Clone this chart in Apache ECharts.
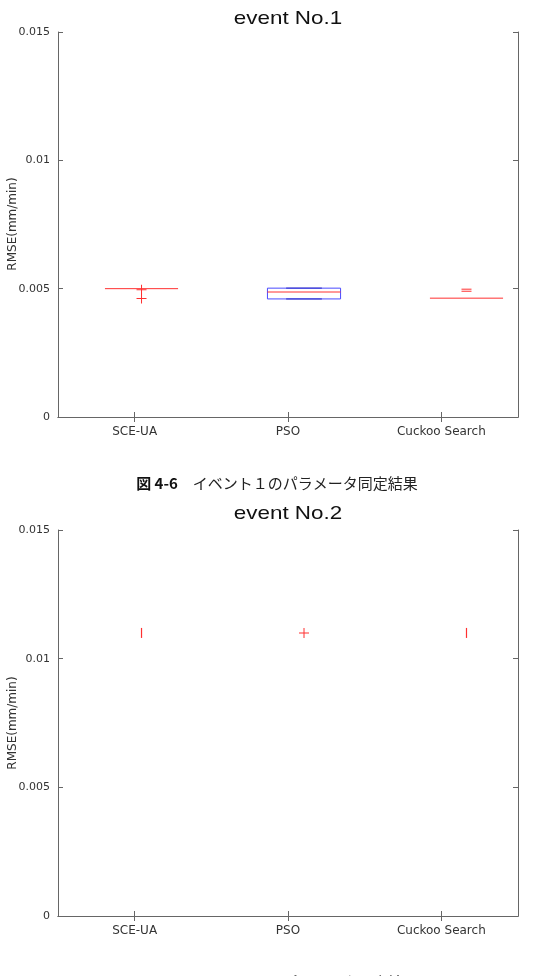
<!DOCTYPE html>
<html>
<head>
<meta charset="utf-8">
<style>
  html, body { margin: 0; padding: 0; background: #fff; }
  #chart { width: 552px; height: 976px; }
</style>
<script src="https://cdn.jsdelivr.net/npm/echarts@6/dist/echarts.min.js"></script>
</head>
<body>
<div id="chart"></div>
<script>
// categories and axis range
const categories = ['SCE-UA', 'PSO', 'Cuckoo Search'];
const yTickLabels = ['0', '0.005', '0.01', '0.015'];
const yMax = 0.015;
const yStep = 0.005;

// event 1: box statistics per method
const event1Low    = [0.00500, 0.00460, 0.00463];
const event1Q1     = [0.00500, 0.00460, 0.00463];
const event1Median = [0.00500, 0.00487, 0.00463];
const event1Q3     = [0.00500, 0.00502, 0.00463];
const event1High   = [0.00500, 0.00502, 0.00463];
const event1Outliers = [[0.00496, 0.00462], [], [0.00498, 0.00490]];

// event 2: every run ended on the same value
const event2Points = [[0.0110], [0.0110], [0.0110]];

// how each outlier mark looks in the original figure
const MARKS = {
    e1: ['plus', 'plus', 'dash'],
    e2: ['bar', 'plus', 'bar'],
};
const PLUS = 'path://M4.5,0H5.5V10H4.5ZM0,4.5H10V5.5H0Z';
const RECT = 'path://M0,0H1V1H0Z';

const AXIS_COLOR = '#666';
const LABEL_COLOR = '#333';
const BOX_HALF = 0.225;
const CAP_HALF = 0.11;

const grids = [
    { left: 58, top: 32,  width: 460, height: 385, containLabel: false, outerBoundsMode: 'none' },
    { left: 58, top: 530, width: 460, height: 386, containLabel: false, outerBoundsMode: 'none' },
];

function xAxesFor(gi) {
    const common = {
        type: 'category',
        gridIndex: gi,
        data: categories,
        boundaryGap: true,
        axisLine: { show: true, lineStyle: { color: AXIS_COLOR } },
        axisTick: { show: true, inside: true, alignWithLabel: true, length: 5, lineStyle: { color: AXIS_COLOR } },
        splitLine: { show: false },
    };
    return [
        { ...common, position: 'bottom',
          axisLabel: { color: LABEL_COLOR, fontSize: 12, margin: 9, fontFamily: 'DejaVu Sans' } },
        { ...common, position: 'top', axisLabel: { show: false } },
        // data sits on its own hidden scale (marks are offset from the ticks in the source)
        { type: 'value', gridIndex: gi, show: false, min: 0.486, max: 3.317 },
    ];
}

function yAxesFor(gi) {
    const common = {
        type: 'value',
        gridIndex: gi,
        min: 0,
        max: yMax,
        interval: yStep,
        axisLine: { show: true, lineStyle: { color: AXIS_COLOR } },
        axisTick: { show: true, inside: true, length: 5, lineStyle: { color: AXIS_COLOR } },
        splitLine: { show: false },
    };
    return [
        { ...common, position: 'left',
          axisLabel: { color: LABEL_COLOR, fontSize: 11, margin: 8, fontFamily: 'DejaVu Sans',
                       formatter: (v) => yTickLabels[Math.round(v / yStep)] } },
        { ...common, position: 'right', axisLabel: { show: false } },
    ];
}

function boxRender(params, api) {
    const x = api.value(0);
    const lo = api.value(1), q1 = api.value(2), med = api.value(3), q3 = api.value(4), hi = api.value(5);
    const c = (vx, vy) => api.coord([vx, vy]);
    const line = (a, b, color) => ({
        type: 'line',
        shape: { x1: a[0], y1: a[1], x2: b[0], y2: b[1] },
        style: { stroke: color, lineWidth: 1 },
    });
    const kids = [];
    const tl = c(x - BOX_HALF, q3), br = c(x + BOX_HALF, q1);
    if (br[1] - tl[1] > 0.5) {
        // caps
        kids.push(line(c(x - CAP_HALF, hi), c(x + CAP_HALF, hi), '#000080'));
        kids.push(line(c(x - CAP_HALF, lo), c(x + CAP_HALF, lo), '#000080'));
        // box
        kids.push({
            type: 'rect',
            shape: { x: tl[0], y: tl[1], width: br[0] - tl[0], height: br[1] - tl[1] },
            style: { fill: 'none', stroke: '#4a4aff', lineWidth: 1 },
        });
    }
    // median
    kids.push(line(c(x - BOX_HALF, med), c(x + BOX_HALF, med), '#ff3030'));
    return { type: 'group', children: kids };
}

function outlierData(list) {
    const out = [];
    list.forEach((vals, i) => vals.forEach(v => out.push([i + 1, v, i])));
    return out;
}

function markSymbol(kind) {
    return kind === 'plus' ? PLUS : RECT;
}
function markSize(kind) {
    if (kind === 'plus') return 10;
    if (kind === 'dash') return [10, 1];
    return [1.2, 10];
}

function title(text, y) {
    return { type: 'text', x: 288, y, scaleX: 1.18,
             style: { text, fontSize: 19, fontFamily: 'Liberation Sans', fill: '#111',
                      textAlign: 'center', textVerticalAlign: 'middle' } };
}

function yName(y) {
    return { type: 'text', x: 13, y, rotation: Math.PI / 2,
             style: { text: 'RMSE(mm/min)', fontSize: 12, fontFamily: 'DejaVu Sans', fill: LABEL_COLOR,
                      textAlign: 'center', textVerticalAlign: 'middle' } };
}

function caption(num, body, y) {
    return { type: 'text', x: 277, y,
             style: {
                 text: `{b|図 ${num}}　${body}`,
                 fontSize: 15, fontFamily: 'Noto Sans CJK JP', fill: '#222',
                 textAlign: 'center', textVerticalAlign: 'middle',
                 rich: { b: { fontWeight: 'bold', fontSize: 15, fontFamily: 'Noto Sans CJK JP', fill: '#111' } },
             } };
}

const boxData1 = categories.map((_, i) =>
    [i + 1, event1Low[i], event1Q1[i], event1Median[i], event1Q3[i], event1High[i]]);

const chart = echarts.init(document.getElementById('chart'), null, { renderer: 'canvas' });

chart.setOption({
    animation: false,
    backgroundColor: '#fff',
    grid: grids,
    xAxis: [...xAxesFor(0), ...xAxesFor(1)],
    yAxis: [...yAxesFor(0), ...yAxesFor(1)],
    series: [
        {
            type: 'custom',
            xAxisIndex: 2, yAxisIndex: 0,
            renderItem: boxRender,
            encode: { x: 0, y: [1, 2, 3, 4, 5] },
            data: boxData1,
            z: 3,
        },
        {
            type: 'scatter',
            xAxisIndex: 2, yAxisIndex: 0,
            data: outlierData(event1Outliers),
            symbol: (v) => markSymbol(MARKS.e1[v[2]]),
            symbolSize: (v) => markSize(MARKS.e1[v[2]]),
            itemStyle: { color: '#ff3030', opacity: 1 },
            z: 4,
        },
        {
            type: 'scatter',
            xAxisIndex: 5, yAxisIndex: 2,
            data: outlierData(event2Points),
            symbol: (v) => markSymbol(MARKS.e2[v[2]]),
            symbolSize: (v) => markSize(MARKS.e2[v[2]]),
            itemStyle: { color: '#ff3030', opacity: 1 },
            z: 4,
        },
    ],
    graphic: [
        title('event No.1', 19),
        title('event No.2', 514),
        yName(224),
        yName(723),
        caption('4-6', 'イベント１のパラメータ同定結果', 483),
        caption('4-7', 'イベント２のパラメータ同定結果', 982),
    ],
});
</script>
</body>
</html>
